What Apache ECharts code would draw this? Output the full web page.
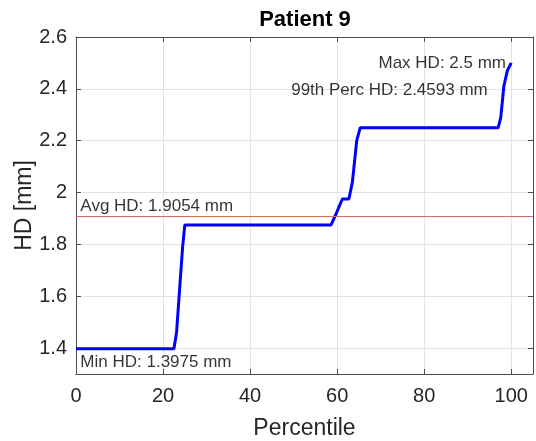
<!DOCTYPE html>
<html>
<head>
<meta charset="utf-8">
<script src="https://cdn.jsdelivr.net/npm/echarts@6/dist/echarts.min.js"></script>
<style>
html,body{margin:0;padding:0;background:#fff;}
#c{width:536px;height:441px;}
</style>
</head>
<body>
<div id="c"></div>
<script>
// Data
var percentiles = [0, 22.5, 23.1, 23.9, 24.5, 25.0, 58.6, 59.8, 61.2, 62.7, 63.5, 64.5, 65.3, 97.0, 97.6, 98.3, 99.1, 100];
var hdValues   = [1.3975, 1.3975, 1.46, 1.65, 1.79, 1.875, 1.875, 1.92, 1.975, 1.975, 2.04, 2.20, 2.25, 2.25, 2.29, 2.41, 2.47, 2.5];
var avgHD = 1.9054;
var xTicks = [0, 20, 40, 60, 80, 100];
var yTicks = [1.4, 1.6, 1.8, 2, 2.2, 2.4, 2.6];
var annoText = ['Max HD: 2.5 mm', '99th Perc HD: 2.4593 mm', 'Avg HD: 1.9054 mm', 'Min HD: 1.3975 mm'];
var annoX = [98.8, 94.6, 1, 1];
var annoY = [2.5, 2.396, 1.945, 1.346];
var annoAlign = ['right', 'right', 'left', 'left'];

var TXT = '#262626';
var AX = '#4d4d4d';
var FONT = '"Liberation Sans", Arial, Helvetica, sans-serif';

var chart = echarts.init(document.getElementById('c'), null, {renderer: 'canvas'});

function yFmt(v) {
  var r = Math.round(v * 5);
  if (Math.abs(v * 5 - r) > 1e-6) return '';
  return String(+v.toFixed(1));
}

var lineData = percentiles.map(function (p, i) { return [p, hdValues[i]]; });
var annoData = annoText.map(function (t, i) {
  return {
    value: [annoX[i], annoY[i]],
    name: t,
    label: {position: annoAlign[i] === 'right' ? 'left' : 'right'}
  };
});

var option = {
  animation: false,
  backgroundColor: '#ffffff',
  textStyle: {fontFamily: FONT},
  graphic: [{
    type: 'text',
    x: 305, y: 20,
    style: {text: 'Patient 9', font: 'bold 22px ' + FONT, fill: '#000', align: 'center', verticalAlign: 'middle', textAlign: 'center', textVerticalAlign: 'middle'}
  }],
  grid: {left: 76, top: 37, right: 3, bottom: 67, containLabel: false, outerBoundsMode: 'none'},
  xAxis: [{
    type: 'value', min: 0, max: 105, interval: 20,
    name: 'Percentile', nameLocation: 'middle', nameGap: 43, nameMoveOverlap: false,
    nameTextStyle: {fontSize: 23, color: TXT, fontFamily: FONT},
    axisLine: {show: true, lineStyle: {color: AX, width: 1}},
    axisTick: {show: true, inside: true, length: 5, lineStyle: {color: AX}},
    axisLabel: {fontSize: 20, color: TXT, margin: 12, fontFamily: FONT,
      formatter: function (v) { return xTicks.indexOf(v) >= 0 ? String(v) : ''; }},
    splitLine: {show: true, lineStyle: {color: '#e3e3e3', width: 1}}
  }, {
    type: 'value', position: 'top', min: 0, max: 105, interval: 20,
    axisLine: {show: true, onZero: false, lineStyle: {color: AX, width: 1}},
    axisTick: {show: true, inside: true, length: 5, lineStyle: {color: AX}},
    axisLabel: {show: false}, splitLine: {show: false}
  }],
  yAxis: [{
    type: 'value', min: 1.3, max: 2.6, splitNumber: 6,
    name: 'HD [mm]', nameLocation: 'middle', nameGap: 40, nameMoveOverlap: false,
    nameTextStyle: {fontSize: 23, color: TXT, fontFamily: FONT},
    axisLine: {show: true, lineStyle: {color: AX, width: 1}},
    axisTick: {show: true, inside: true, length: 5, lineStyle: {color: AX}},
    axisLabel: {fontSize: 20, color: TXT, margin: 9, fontFamily: FONT, formatter: yFmt},
    splitLine: {show: true, lineStyle: {color: '#e3e3e3', width: 1}}
  }, {
    type: 'value', position: 'right', min: 1.3, max: 2.6, splitNumber: 6,
    axisLine: {show: true, onZero: false, lineStyle: {color: AX, width: 1}},
    axisTick: {show: true, inside: true, length: 5, lineStyle: {color: AX}},
    axisLabel: {show: false}, splitLine: {show: false}
  }],
  series: [{
    type: 'line',
    data: lineData,
    showSymbol: false,
    symbol: 'none',
    lineStyle: {color: '#0000ff', width: 3},
    z: 3,
    markLine: {
      silent: true, symbol: 'none',
      label: {show: false},
      emphasis: {disabled: true},
      lineStyle: {color: '#d9686a', width: 1, type: 'solid', opacity: 1},
      data: [{yAxis: avgHD, lineStyle: {color: '#d9686a', width: 1, type: 'solid'}}]
    }
  }, {
    type: 'scatter',
    data: annoData,
    symbolSize: 0,
    silent: true,
    z: 5,
    label: {
      show: true, distance: 0, color: '#000', fontSize: 17, fontFamily: FONT,
      formatter: function (p) { return p.name; }
    }
  }]
};
chart.setOption(option);
</script>
</body>
</html>
